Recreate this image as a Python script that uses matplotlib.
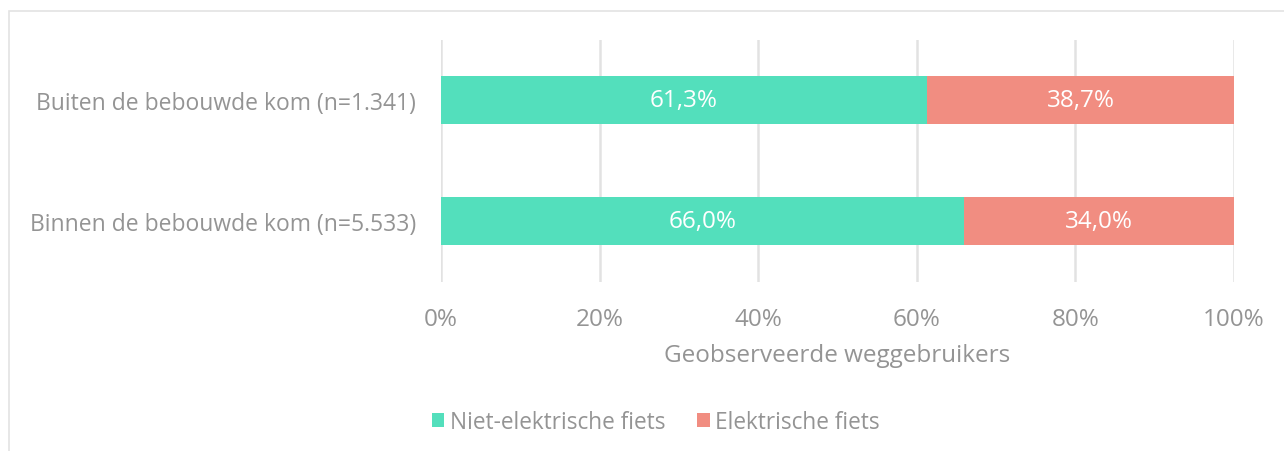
import matplotlib.pyplot as plt
from matplotlib.patches import Rectangle

# data
categories = ["Binnen de bebouwde kom (n=5.533)", "Buiten de bebouwde kom (n=1.341)"]
niet_elektrisch = [66.0, 61.3]
elektrisch = [34.0, 38.7]
series_names = ["Niet-elektrische fiets", "Elektrische fiets"]
ticks = [0, 20, 40, 60, 80, 100]

green = "#53dfbc"
salmon = "#f18d81"
grey = "#949494"

plt.rcParams["font.family"] = ["Open Sans", "DejaVu Sans"]

fig = plt.figure(figsize=(12.84, 4.52), dpi=100)
# light outer frame
fig.patches.append(Rectangle((9 / 1284, -0.05), 1.1, 1 - 12 / 452 + 0.05,
                             transform=fig.transFigure, fill=False,
                             edgecolor="#e3e3e3", linewidth=1.2))

ax = fig.add_axes([441 / 1284, 1 - 282.5 / 452, (1234 - 441) / 1284, (282.5 - 40.5) / 452])
y = range(len(categories))
b1 = ax.barh(y, niet_elektrisch, height=0.4, color=green, label=series_names[0], zorder=3)
b2 = ax.barh(y, elektrisch, left=niet_elektrisch, height=0.4, color=salmon,
             label=series_names[1], zorder=3)

for bars in (b1, b2):
    for r in bars:
        w = r.get_width()
        ax.text(r.get_x() + w / 2, r.get_y() + r.get_height() / 2,
                f"{w:.1f}%".replace(".", ","), ha="center", va="center",
                color="white", fontsize=17.5, zorder=4)

ax.set_xlim(0, 100)
ax.set_ylim(-0.5, 1.5)
ax.set_xticks(ticks)
ax.set_xticklabels([f"{t}%" for t in ticks], fontsize=17.5)
ax.set_yticks(list(y))
ax.set_yticklabels(categories, fontsize=16.5)
ax.tick_params(axis="both", length=0, labelcolor=grey)
ax.tick_params(axis="x", pad=18)
ax.tick_params(axis="y", pad=18)
ax.grid(axis="x", color="#e2e2e2", linewidth=1.8, zorder=0)
for s in ax.spines.values():
    s.set_visible(False)
ax.set_xlabel("Geobserveerde weggebruikers", color=grey, fontsize=17.5, labelpad=9)

fig.legend(handles=[b1, b2], loc="center", bbox_to_anchor=(656 / 1284, 1 - 423 / 452),
           ncol=2, frameon=False, fontsize=16.3, labelcolor=grey,
           handlelength=0.55, handleheight=0.55, handletextpad=0.25, columnspacing=1.4)

fig.savefig("out.png", dpi=100)
